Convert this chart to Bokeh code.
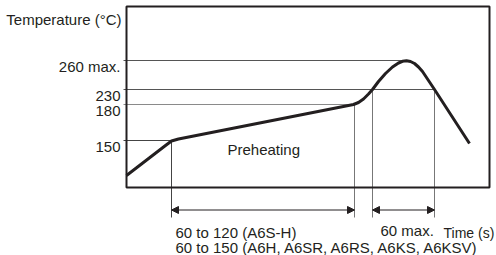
from bokeh.plotting import figure
from bokeh.models import Range1d, Arrow, NormalHead, ColumnDataSource
from bokeh.core.properties import value
from bokeh.embed import file_html
from bokeh.resources import INLINE

# ---- schematic data (x: time units, y: temperature position) ----
curve_x = [0, 39, 45, 52, 227, 232, 237, 242, 246, 252, 259, 266, 272, 276, 280, 284, 288, 292, 296, 308, 343]
curve_y = [12, 42, 46.5, 48.5, 83, 85, 88.5, 93.5, 98, 106, 114, 120.5, 124.5, 126.2, 126.7, 126, 124, 120.5, 116, 98, 44]

level_labels = ["150", "180", "230", "260 max."]
level_pos = [47, 83, 98, 127]
level_end = [45, 228, 308, 280]          # where each reference line meets the curve
level_color = ["#444444", "#8a8a8a", "#555555", "#555555"]
label_base = [41, 77, 91.5, 121.5]

marker_x = [45, 228, 246, 308]           # preheat start / end, 230 rise / fall
marker_top = [47, 83, 98, 98]
marker_color = ["#444444", "#777777", "#777777", "#777777"]
marker_bottom = -30

box_w, box_h = 363, 181
arrow_y = -22.5

FONT = value("Liberation Sans")
SIZE = value("15px")
INK = "#231f20"

p = figure(width=496, height=255, x_range=Range1d(-126, 370), y_range=Range1d(-68, 187),
           output_backend="svg", toolbar_location=None, min_border=0,
           x_axis_type=None, y_axis_type=None, outline_line_color=None)
p.xgrid.visible = False
p.ygrid.visible = False

# reference level lines
for lv, le, lc in zip(level_pos, level_end, level_color):
    p.line([-3, le], [lv, lv], line_color=lc, line_width=1)

# vertical markers
for mx, mt, mc in zip(marker_x, marker_top, marker_color):
    p.line([mx, mx], [mt, marker_bottom], line_color=mc, line_width=1)

# box
p.quad(left=[0], right=[box_w], bottom=[0], top=[box_h], fill_alpha=0,
       line_color=INK, line_width=2)

# profile curve
p.line(curve_x, curve_y, line_color=INK, line_width=3, line_join="round")

# arrows
for xs, xe in [(marker_x[0], marker_x[1]), (marker_x[2], marker_x[3])]:
    p.add_layout(Arrow(x_start=xs, y_start=arrow_y, x_end=xe, y_end=arrow_y,
                       line_color=INK, line_width=1,
                       start=NormalHead(size=7, fill_color=INK, line_color=INK, line_width=1),
                       end=NormalHead(size=7, fill_color=INK, line_color=INK, line_width=1)))

# level labels
p.text(x=[-6] * 4, y=label_base, text=level_labels, text_font=FONT, text_font_size=SIZE,
       text_align="right", text_baseline="alphabetic", text_color=INK)

# other texts
texts = ColumnDataSource(dict(
    x=[-5, 101, 49, 49, 254],
    y=[168.5, 38.5, -45, -59.5, -43],
    t=["Temperature (°C)", "Preheating", "60 to 120 (A6S-H)",
       "60 to 150 (A6H, A6SR, A6RS, A6KS, A6KSV)", "60 max."],
    a=["right", "left", "left", "left", "left"],
))
p.text(x="x", y="y", text="t", text_align="a", source=texts, text_font=FONT,
       text_font_size=SIZE, text_baseline="alphabetic", text_color=INK)

# axis title for time (slightly tighter to stay inside the window)
p.text(x=[317], y=[-45], text=["Time (s)"], text_font=FONT, text_font_size=value("14px"),
       text_align="left", text_baseline="alphabetic", text_color=INK)

open("out.html", "w").write(file_html(p, INLINE))
